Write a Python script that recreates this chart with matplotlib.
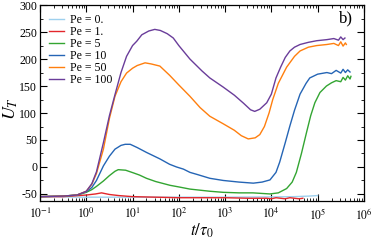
import numpy as np
import matplotlib
matplotlib.use("Agg")
import matplotlib.pyplot as plt
from matplotlib.ticker import LogLocator, MultipleLocator, NullFormatter, FixedLocator

plt.rcParams['font.family'] = ['Liberation Serif', 'DejaVu Serif']
plt.rcParams['mathtext.fontset'] = 'stix'
plt.rcParams['axes.unicode_minus'] = False

labels = ["Pe = 0.", "Pe = 1.", "Pe = 5", "Pe = 10", "Pe = 50", "Pe = 100"]
colors = ["#9ed0ee", "#e3262b", "#33a532", "#2565b5", "#ff7f0e", "#6a3d9a"]
x_decades = [-1, 0, 1, 2, 3, 4, 5, 6]

# log10(t/tau0) and U_T for each Pe
lt_pe0 = [-1, 0, 1, 2, 3, 4, 4.5, 4.8, 5.0]
u_pe0 = [-55, -56, -56, -56, -56, -55.5, -55, -54, -53]

lt_pe1 = [-1, -0.5, 0, 0.2, 0.33, 0.5, 0.7, 1.0, 1.5, 2.0, 2.5, 3.0, 3.5, 3.9, 4.0, 4.1, 4.2, 4.3, 4.4, 4.5, 4.6, 4.68]
u_pe1 = [-55, -55, -52, -50, -48, -51, -53, -55, -56, -57, -57, -57, -58, -58, -59, -57, -58, -59, -57, -58, -59, -58]

lt_pe5 = [-1, -0.5, -0.2, 0, 0.12, 0.22, 0.37, 0.5, 0.62, 0.69, 0.85, 1.02, 1.15, 1.3, 1.5, 1.81, 2.0, 2.24,
          2.67, 2.96, 3.3, 3.6, 3.97, 4.15, 4.33, 4.45, 4.54, 4.65, 4.76, 4.85, 4.94, 5.05, 5.19, 5.3, 5.4, 5.5,
          5.55, 5.6, 5.65, 5.7, 5.72]
u_pe5 = [-55, -54, -52, -47, -42, -36, -26, -16, -8, -5, -6, -11, -15, -21, -27, -34, -37, -41,
         -45, -47, -48, -48, -50, -48, -40, -28, -10, 25, 64, 95, 119, 138, 150, 156, 160, 158,
         166, 161, 169, 163, 168]

lt_pe10 = [-1, -0.5, -0.2, 0, 0.12, 0.22, 0.37, 0.5, 0.62, 0.75, 0.84, 0.95, 1.1, 1.3, 1.59, 1.8, 1.95, 2.1,
           2.24, 2.4, 2.67, 2.96, 3.3, 3.61, 3.8, 3.97, 4.1, 4.18, 4.3, 4.4, 4.5, 4.62, 4.75, 4.83, 5.0, 5.2,
           5.3, 5.4, 5.5, 5.55, 5.6, 5.65, 5.7]
u_pe10 = [-55, -54, -52, -46, -38, -25, 2, 20, 33, 40, 42, 42, 36, 27, 15, 5, 0, -4,
          -10, -14, -21, -25, -28, -30, -28, -24, -10, 9, 45, 76, 105, 135, 155, 165, 172, 175,
          173, 179, 174, 181, 175, 180, 176]

lt_pe50 = [-1, -0.5, -0.2, 0, 0.12, 0.22, 0.37, 0.5, 0.62, 0.75, 0.87, 1.0, 1.1, 1.27, 1.4, 1.59, 1.8, 2.0,
           2.24, 2.46, 2.67, 2.96, 3.2, 3.35, 3.5, 3.65, 3.75, 3.85, 3.95, 4.03, 4.15, 4.33, 4.5, 4.62, 4.8,
           4.98, 5.2, 5.35, 5.45, 5.5, 5.55, 5.6, 5.62]
u_pe50 = [-55, -54, -52, -45, -32, -12, 33, 90, 131, 158, 174, 183, 188, 193, 191, 187, 170, 152,
          131, 110, 94, 80, 68, 58, 52, 54, 60, 75, 100, 125, 155, 185, 205, 215, 222,
          225, 227, 229, 225, 232, 224, 230, 227]

lt_pe100 = [-1, -0.5, -0.2, 0, 0.12, 0.22, 0.37, 0.5, 0.62, 0.75, 0.87, 1.0, 1.09, 1.2, 1.35, 1.48, 1.6,
            1.75, 1.88, 2.0, 2.24, 2.5, 2.67, 2.96, 3.2, 3.4, 3.55, 3.64, 3.75, 3.9, 4.0, 4.1, 4.2, 4.3,
            4.4, 4.5, 4.62, 4.8, 4.98, 5.2, 5.35, 5.45, 5.5, 5.55, 5.59]
u_pe100 = [-55, -54, -52, -45, -31, -9, 45, 95, 134, 175, 205, 225, 233, 245, 252, 255, 253,
           247, 239, 225, 200, 178, 165, 148, 133, 118, 106, 103, 107, 119, 135, 165, 185, 203,
           215, 222, 227, 231, 234, 236, 238, 235, 241, 236, 239]

series_lt = [lt_pe0, lt_pe1, lt_pe5, lt_pe10, lt_pe50, lt_pe100]
series_u = [u_pe0, u_pe1, u_pe5, u_pe10, u_pe50, u_pe100]

fig = plt.figure(figsize=(3.74, 2.43), dpi=100)
ax = fig.add_axes([0.107, 0.173, 0.866, 0.806])

for lt, u, c, lab in zip(series_lt, series_u, colors, labels):
    ax.plot(10.0 ** np.array(lt), u, color=c, lw=1.0, label=lab)

ax.set_xscale('log')
ax.set_xlim(0.1, 1e6)
ax.set_ylim(-63, 300)
ax.xaxis.set_major_locator(FixedLocator([10.0 ** d for d in x_decades]))
ax.set_xticklabels([r"$10^{%d}$" % d for d in x_decades])
ax.xaxis.set_minor_locator(LogLocator(base=10, subs=np.arange(2, 10), numticks=100))
ax.xaxis.set_minor_formatter(NullFormatter())
ax.yaxis.set_major_locator(MultipleLocator(50))
ax.yaxis.set_minor_locator(MultipleLocator(25))
ax.tick_params(which='both', direction='in', top=True, right=True, labelsize=8.5)
ax.tick_params(axis='x', pad=4)
ax.tick_params(axis='y', pad=2)
ax.tick_params(which='major', length=5, width=0.8)
ax.tick_params(which='minor', length=2.5, width=0.6)
for s in ax.spines.values():
    s.set_linewidth(0.9)

ax.set_xlabel(r"$t/\tau_0$", fontsize=12, labelpad=0)
ax.set_ylabel(r"$U_T$", fontsize=13)
ax.yaxis.set_label_coords(-0.062, 0.47)

ax.legend(loc='upper left', frameon=False, fontsize=8.5, handlelength=1.3,
          handletextpad=0.5, labelspacing=0.0, borderaxespad=0.35)
ax.text(0.965, 0.93, "b)", transform=ax.transAxes, ha='right', va='center', fontsize=12)

fig.savefig("out.png", dpi=100)
